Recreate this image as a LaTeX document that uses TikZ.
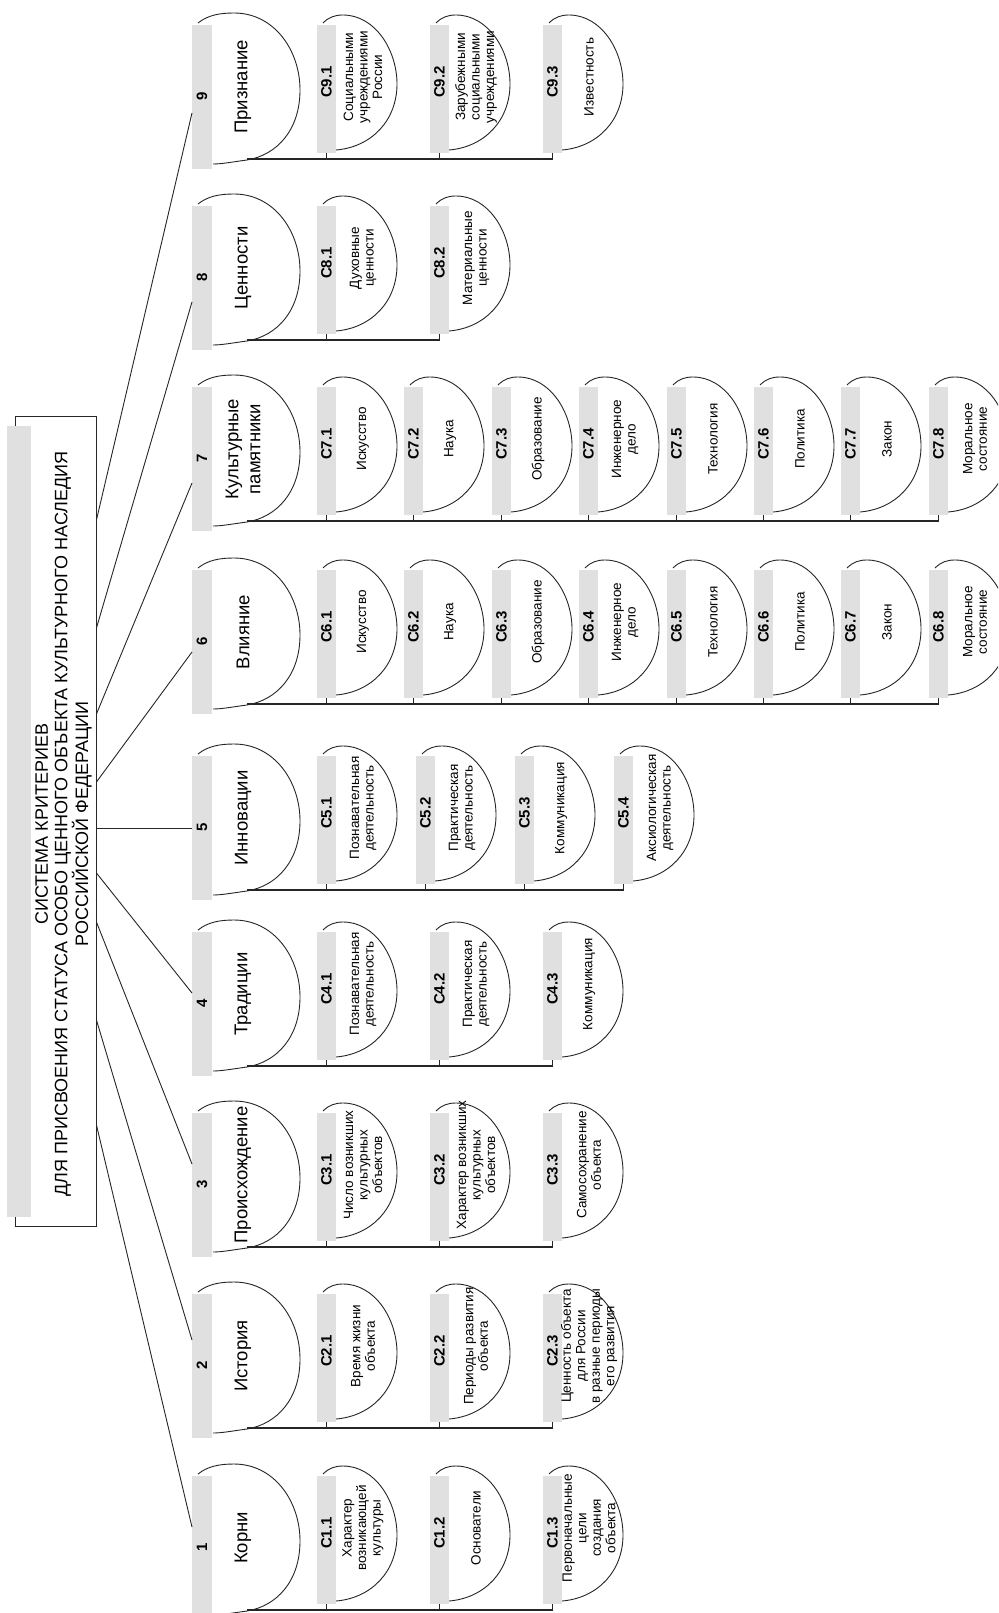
\documentclass[tikz,border=0pt]{standalone}
\usepackage{fontspec}
\setmainfont{Liberation Sans}
\definecolor{hdr}{RGB}{224,224,224}
\newcommand\MainNode[4]{%
  \draw[dline] (198,#2-2) .. controls (208,#2-10) and (220,#2-12) .. (234,#2-12)
    .. controls (274,#2-12) and (300,#2+25) .. (300,#2+65)
    .. controls (300,#2+105) and (277,#2+130) .. (247,#2+135)
    .. controls (232,#2+137) and (222,#2+139) .. (213,#2+139);
  \node[mainbar] (#1) at (202,#2+72) {};
  \node[mainlabel] (#1l) at (202,#2+71) {#3};
  \node[maintext] (#1t) at (243,#2+62) {#4};
  \coordinate (#1b) at (247,#2+134);
}
\newcommand\SubNode[5]{%
  \draw[dline] (#2+6,#3-2) .. controls (#2+12,#3-8) and (#2+18,#3-10) .. (#2+26,#3-10)
     .. controls (#2+58,#3-10) and (#2+80,#3+25) .. (#2+80,#3+59)
     .. controls (#2+80,#3+95) and (#2+55,#3+122) .. (#2+19,#3+125);
  \node[subbar] (#1) at (#2+9.5,#3+64) {};
  \node[sublabel] (#1l) at (#2+9.5,#3+57) {#4};
  \node[subtext] (#1t) at (#2+46,#3+52) {#5};
}
\newcommand\Bus[3]{%
  \draw[bus] (#1b) -| (#2.south);
  \foreach \c in {#3}{\draw[tick] (\c.south) -- (\c.south |- #1b);}
}
\begin{document}
\begin{tikzpicture}[x=1pt,y=-1pt,
  mainbar/.style={fill=hdr,draw=none,minimum width=20pt,minimum height=144pt,inner sep=0pt,outer sep=0pt},
  subbar/.style={fill=hdr,draw=none,minimum width=19pt,minimum height=128pt,inner sep=0pt,outer sep=0pt},
  mainlabel/.style={rotate=90,font=\bfseries\fontsize{15}{17}\selectfont,inner sep=0pt},
  sublabel/.style={rotate=90,font=\bfseries\fontsize{15}{17}\selectfont,inner sep=0pt},
  maintext/.style={rotate=90,font=\fontsize{18.5}{22}\selectfont,align=center,inner sep=0pt},
  subtext/.style={rotate=90,font=\fontsize{13.5}{14.5}\selectfont,align=center,inner sep=0pt},
  titletext/.style={rotate=90,font=\fontsize{18}{19.5}\selectfont,align=center,inner sep=0pt},
  titlebox/.style={draw=black!85,line width=0.9pt,minimum width=81pt,minimum height=810pt,inner sep=0pt},
  dline/.style={draw=black!85,line width=0.9pt},
  bus/.style={draw=black!85,line width=1.6pt},
  tick/.style={draw=black!85,line width=0.9pt},
  conn/.style={draw=black!85,line width=0.9pt}]
\useasboundingbox (0,0) rectangle (998,1613);
\clip (0,0) rectangle (998,1613);
\fill[white] (0,0) rectangle (998,1613);

% title
\node[titlebox] (title) at (55.5,821) {};
\fill[hdr] (7,426) rectangle (31,1217);
\node[titletext] (tt) at (63.5,824) {СИСТЕМА КРИТЕРИЕВ\\ДЛЯ ПРИСВОЕНИЯ СТАТУСА ОСОБО ЦЕННОГО ОБЪЕКТА КУЛЬТУРНОГО НАСЛЕДИЯ\\РОССИЙСКОЙ ФЕДЕРАЦИИ};

% row 9
\MainNode{m9}{25}{9}{Признание}
\SubNode{c91}{317}{25}{C9.1}{Социальными\\учреждениями\\России}
\SubNode{c92}{430}{25}{C9.2}{Зарубежными\\социальными\\учреждениями}
\SubNode{c93}{543}{25}{C9.3}{Известность}
\Bus{m9}{c93}{c91,c92,c93}

% row 8
\MainNode{m8}{206}{8}{Ценности}
\SubNode{c81}{317}{206}{C8.1}{Духовные\\ценности}
\SubNode{c82}{430}{206}{C8.2}{Материальные\\ценности}
\Bus{m8}{c82}{c81,c82}

% row 7
\MainNode{m7}{387}{7}{Культурные\\памятники}
\SubNode{c71}{317}{387}{C7.1}{Искусство}
\SubNode{c72}{404}{387}{C7.2}{Наука}
\SubNode{c73}{492}{387}{C7.3}{Образование}
\SubNode{c74}{579}{387}{C7.4}{Инженерное\\дело}
\SubNode{c75}{667}{387}{C7.5}{Технология}
\SubNode{c76}{754}{387}{C7.6}{Политика}
\SubNode{c77}{841}{387}{C7.7}{Закон}
\SubNode{c78}{929}{387}{C7.8}{Моральное\\состояние}
\Bus{m7}{c78}{c71,c72,c73,c74,c75,c76,c77,c78}

% row 6
\MainNode{m6}{570}{6}{Влияние}
\SubNode{c61}{317}{570}{C6.1}{Искусство}
\SubNode{c62}{404}{570}{C6.2}{Наука}
\SubNode{c63}{492}{570}{C6.3}{Образование}
\SubNode{c64}{579}{570}{C6.4}{Инженерное\\дело}
\SubNode{c65}{667}{570}{C6.5}{Технология}
\SubNode{c66}{754}{570}{C6.6}{Политика}
\SubNode{c67}{841}{570}{C6.7}{Закон}
\SubNode{c68}{929}{570}{C6.8}{Моральное\\состояние}
\Bus{m6}{c68}{c61,c62,c63,c64,c65,c66,c67,c68}

% row 5
\MainNode{m5}{756}{5}{Инновации}
\SubNode{c51}{317}{756}{C5.1}{Познавательная\\деятельность}
\SubNode{c52}{416}{756}{C5.2}{Практическая\\деятельность}
\SubNode{c53}{515}{756}{C5.3}{Коммуникация}
\SubNode{c54}{614}{756}{C5.4}{Аксиологическая\\деятельность}
\Bus{m5}{c54}{c51,c52,c53,c54}

% row 4
\MainNode{m4}{932}{4}{Традиции}
\SubNode{c41}{317}{932}{C4.1}{Познавательная\\деятельность}
\SubNode{c42}{430}{932}{C4.2}{Практическая\\деятельность}
\SubNode{c43}{543}{932}{C4.3}{Коммуникация}
\Bus{m4}{c43}{c41,c42,c43}

% row 3
\MainNode{m3}{1113}{3}{Происхождение}
\SubNode{c31}{317}{1113}{C3.1}{Число возникших\\культурных\\объектов}
\SubNode{c32}{430}{1113}{C3.2}{Характер возникших\\культурных\\объектов}
\SubNode{c33}{543}{1113}{C3.3}{Самосохранение\\объекта}
\Bus{m3}{c33}{c31,c32,c33}

% row 2
\MainNode{m2}{1294}{2}{История}
\SubNode{c21}{317}{1294}{C2.1}{Время жизни\\объекта}
\SubNode{c22}{430}{1294}{C2.2}{Периоды развития\\объекта}
\SubNode{c23}{543}{1294}{C2.3}{Ценность объекта\\для России\\в разные периоды\\его развития}
\Bus{m2}{c23}{c21,c22,c23}

% row 1
\MainNode{m1}{1476}{1}{Корни}
\SubNode{c11}{317}{1476}{C1.1}{Характер\\возникающей\\культуры}
\SubNode{c12}{430}{1476}{C1.2}{Основатели}
\SubNode{c13}{543}{1476}{C1.3}{Первоначальные\\цели\\создания\\объекта}
\Bus{m1}{c13}{c11,c12,c13}

% connectors from title
\coordinate (s9) at (96,520);  \coordinate (e9) at (192,113);
\coordinate (s8) at (96,628);  \coordinate (e8) at (192,302);
\coordinate (s7) at (96,714);  \coordinate (e7) at (192,483);
\coordinate (s6) at (96,782);  \coordinate (e6) at (192,652);
\coordinate (s5) at (96,828);  \coordinate (e5) at (192,828);
\coordinate (s4) at (96,873);  \coordinate (e4) at (192,993);
\coordinate (s3) at (96,922);  \coordinate (e3) at (192,1164);
\coordinate (s2) at (96,1020); \coordinate (e2) at (192,1340);
\coordinate (s1) at (96,1125); \coordinate (e1) at (192,1527);
\foreach \i in {1,...,9}{\draw[conn] (title.east |- s\i) -- (m\i.west |- e\i);}
\end{tikzpicture}
\end{document}
